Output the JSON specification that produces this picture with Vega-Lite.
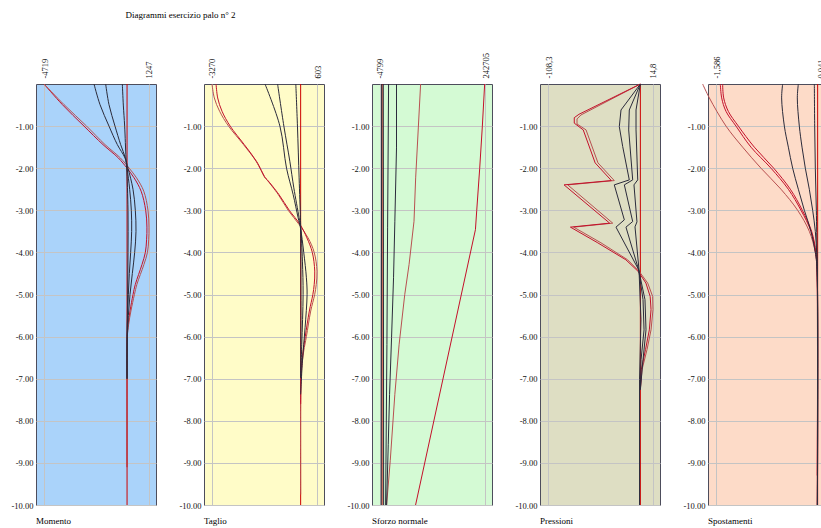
{
"$schema": "https://vega.github.io/schema/vega-lite/v6.json",
"padding": {"left": 10, "top": 10, "right": 0, "bottom": 2},
"title": {"text": "Diagrammi esercizio palo n° 2", "anchor": "start", "frame": "bounds", "dx": 115, "offset": 32, "font": "Liberation Serif", "fontSize": 9, "fontWeight": "normal", "color": "#000"},
"config": {
 "font": "Liberation Serif",
 "view": {"stroke": "#4d4d5c", "strokeWidth": 1},
 "axis": {"labelFont": "Liberation Serif", "labelFontSize": 8.5, "labelColor": "#111", "ticks": false, "domain": false, "gridColor": "#c4c4c4", "gridWidth": 1, "gridOpacity": 1},
 "line": {"strokeWidth": 1}
},
"spacing": 48,
"bounds": "flush",
"resolve": {"scale": {"x": "independent", "y": "independent"}},
"datasets": {
"m": [
{"s":"Z","z":0,"v":0},{"s":"Z","z":-10,"v":0},
{"s":"B","z":0,"v":-4719},{"s":"B","z":-0.49,"v":-3677},{"s":"B","z":-1.0,"v":-2446},{"s":"B","z":-1.44,"v":-1367},{"s":"B","z":-1.756,"v":-495},{"s":"B","z":-2.0,"v":0},{"s":"B","z":-2.23,"v":400},{"s":"B","z":-2.546,"v":800},{"s":"B","z":-3.0,"v":1060},{"s":"B","z":-3.4,"v":1130},{"s":"B","z":-3.7,"v":1110},{"s":"B","z":-4.0,"v":1040},{"s":"B","z":-4.286,"v":850},{"s":"B","z":-4.76,"v":470},{"s":"B","z":-5.0,"v":340},{"s":"B","z":-5.39,"v":170},{"s":"B","z":-5.71,"v":60},{"s":"B","z":-6.0,"v":5},{"s":"B","z":-6.5,"v":0},{"s":"B","z":-9.1,"v":0},
{"s":"A","z":0,"v":-4719},{"s":"A","z":-0.49,"v":-3580},{"s":"A","z":-1.0,"v":-2300},{"s":"A","z":-1.44,"v":-1250},{"s":"A","z":-1.756,"v":-380},{"s":"A","z":-2.0,"v":120},{"s":"A","z":-2.23,"v":540},{"s":"A","z":-2.546,"v":950},{"s":"A","z":-3.0,"v":1190},{"s":"A","z":-3.4,"v":1247},{"s":"A","z":-3.7,"v":1230},{"s":"A","z":-4.0,"v":1160},{"s":"A","z":-4.286,"v":960},{"s":"A","z":-4.76,"v":560},{"s":"A","z":-5.0,"v":420},{"s":"A","z":-5.39,"v":220},{"s":"A","z":-5.71,"v":90},{"s":"A","z":-6.0,"v":15},{"s":"A","z":-6.5,"v":0},{"s":"A","z":-9.1,"v":0},
{"s":"N1","z":0,"v":-1878},{"s":"N1","z":-0.49,"v":-1537},{"s":"N1","z":-1.0,"v":-1026},{"s":"N1","z":-1.44,"v":-552},{"s":"N1","z":-1.756,"v":-117},{"s":"N1","z":-2.0,"v":54},{"s":"N1","z":-2.5,"v":338},{"s":"N1","z":-3.0,"v":470},{"s":"N1","z":-3.5,"v":508},{"s":"N1","z":-4.0,"v":433},{"s":"N1","z":-4.5,"v":300},{"s":"N1","z":-5.0,"v":167},{"s":"N1","z":-5.5,"v":73},{"s":"N1","z":-6.0,"v":16},{"s":"N1","z":-6.5,"v":0},{"s":"N1","z":-7.0,"v":0},
{"s":"N2","z":0,"v":-1215},{"s":"N2","z":-0.49,"v":-1026},{"s":"N2","z":-1.0,"v":-685},{"s":"N2","z":-1.44,"v":-363},{"s":"N2","z":-1.756,"v":-98},{"s":"N2","z":-2.0,"v":0},{"s":"N2","z":-2.5,"v":148},{"s":"N2","z":-3.0,"v":243},{"s":"N2","z":-3.5,"v":262},{"s":"N2","z":-4.0,"v":205},{"s":"N2","z":-4.5,"v":130},{"s":"N2","z":-5.0,"v":73},{"s":"N2","z":-5.5,"v":30},{"s":"N2","z":-6.0,"v":5},{"s":"N2","z":-7.0,"v":0},
{"s":"N3","z":0,"v":-268},{"s":"N3","z":-0.5,"v":-212},{"s":"N3","z":-1.0,"v":-136},{"s":"N3","z":-1.756,"v":-60},{"s":"N3","z":-2.0,"v":-20},{"s":"N3","z":-3.0,"v":55},{"s":"N3","z":-4.0,"v":55},{"s":"N3","z":-5.0,"v":35},{"s":"N3","z":-6.0,"v":0},{"s":"N3","z":-7.0,"v":0}
],
"t": [
{"s":"Z","z":0,"v":0},{"s":"Z","z":-10,"v":0},
{"s":"A","z":0,"v":-3270},{"s":"A","z":-0.332,"v":-3184},{"s":"A","z":-0.648,"v":-2989},{"s":"A","z":-1.0,"v":-2659},{"s":"A","z":-1.439,"v":-2109},{"s":"A","z":-1.835,"v":-1645},{"s":"A","z":-2.23,"v":-1315},{"s":"A","z":-2.27,"v":-1254},{"s":"A","z":-2.626,"v":-826},{"s":"A","z":-3.0,"v":-460},{"s":"A","z":-3.337,"v":-57},{"s":"A","z":-3.654,"v":273},{"s":"A","z":-4.0,"v":500},{"s":"A","z":-4.444,"v":603},{"s":"A","z":-4.761,"v":575},{"s":"A","z":-5.0,"v":518},{"s":"A","z":-5.393,"v":371},{"s":"A","z":-6.0,"v":212},{"s":"A","z":-6.343,"v":114},{"s":"A","z":-6.738,"v":41},{"s":"A","z":-7.0,"v":15},{"s":"A","z":-7.45,"v":0},{"s":"A","z":-9.75,"v":0},
{"s":"B","z":0,"v":-3120},{"s":"B","z":-0.332,"v":-3060},{"s":"B","z":-0.648,"v":-2900},{"s":"B","z":-1.0,"v":-2600},{"s":"B","z":-1.439,"v":-2080},{"s":"B","z":-1.835,"v":-1630},{"s":"B","z":-2.23,"v":-1300},{"s":"B","z":-2.27,"v":-1240},{"s":"B","z":-2.626,"v":-800},{"s":"B","z":-3.0,"v":-420},{"s":"B","z":-3.337,"v":-20},{"s":"B","z":-3.654,"v":230},{"s":"B","z":-4.0,"v":430},{"s":"B","z":-4.444,"v":520},{"s":"B","z":-4.761,"v":500},{"s":"B","z":-5.0,"v":450},{"s":"B","z":-5.393,"v":320},{"s":"B","z":-6.0,"v":170},{"s":"B","z":-6.343,"v":90},{"s":"B","z":-6.738,"v":30},{"s":"B","z":-7.0,"v":10},{"s":"B","z":-7.6,"v":0},
{"s":"N1","z":0,"v":-1315},{"s":"N1","z":-1.0,"v":-765},{"s":"N1","z":-2.0,"v":-521},{"s":"N1","z":-2.626,"v":-277},{"s":"N1","z":-3.179,"v":-93},{"s":"N1","z":-3.416,"v":-8},{"s":"N1","z":-4.0,"v":114},{"s":"N1","z":-4.603,"v":212},{"s":"N1","z":-5.0,"v":237},{"s":"N1","z":-5.789,"v":163},{"s":"N1","z":-6.58,"v":65},{"s":"N1","z":-7.371,"v":0},
{"s":"N2","z":0,"v":-851},{"s":"N2","z":-1.0,"v":-619},{"s":"N2","z":-1.835,"v":-399},{"s":"N2","z":-2.467,"v":-252},{"s":"N2","z":-3.179,"v":-57},{"s":"N2","z":-3.416,"v":0},{"s":"N2","z":-4.207,"v":65},{"s":"N2","z":-5.0,"v":90},{"s":"N2","z":-6.184,"v":41},{"s":"N2","z":-6.975,"v":0},
{"s":"N3","z":0,"v":-179},{"s":"N3","z":-1.0,"v":-118},{"s":"N3","z":-2.23,"v":-57},{"s":"N3","z":-3.179,"v":-8},{"s":"N3","z":-3.416,"v":0},{"s":"N3","z":-5.393,"v":12},{"s":"N3","z":-6.975,"v":0}
],
"n": [
{"s":"Z","z":0,"v":0},{"s":"Z","z":-10,"v":0},
{"s":"A","z":0,"v":90931},{"s":"A","z":-1.044,"v":85483},{"s":"A","z":-2.23,"v":79257},{"s":"A","z":-3.26,"v":75366},{"s":"A","z":-4.29,"v":63691},{"s":"A","z":-5.0,"v":53573},{"s":"A","z":-6.18,"v":40342},{"s":"A","z":-7.37,"v":30224},{"s":"A","z":-8.95,"v":19328},{"s":"A","z":-10,"v":10767},
{"s":"B","z":0,"v":241923},{"s":"B","z":-1.0,"v":236476},{"s":"B","z":-2.0,"v":230248},{"s":"B","z":-3.0,"v":223243},{"s":"B","z":-3.46,"v":220130},{"s":"B","z":-10,"v":79040},
{"s":"N1","z":0,"v":34116},{"s":"N1","z":-1.518,"v":34116},{"s":"N1","z":-3.26,"v":30224},{"s":"N1","z":-4.603,"v":27111},{"s":"N1","z":-6.026,"v":22442},{"s":"N1","z":-7.371,"v":17772},{"s":"N1","z":-8.557,"v":14659},{"s":"N1","z":-10,"v":10767},
{"s":"N2","z":0,"v":15437},{"s":"N2","z":-3.4,"v":13102},{"s":"N2","z":-6.184,"v":11545},{"s":"N2","z":-10,"v":8431},
{"s":"N3","z":0,"v":2984},{"s":"N3","z":-10,"v":3762},
{"s":"N4","z":0,"v":-900},{"s":"N4","z":-10,"v":-2000}
],
"p": [
{"s":"Z","z":0,"v":0},{"s":"Z","z":-10,"v":0},
{"s":"A","z":0,"v":0},{"s":"A","z":-0.735,"v":-69.6},{"s":"A","z":-0.83,"v":-74.3},{"s":"A","z":-0.95,"v":-74.3},{"s":"A","z":-1.09,"v":-63.7},{"s":"A","z":-1.874,"v":-49.7},{"s":"A","z":-2.294,"v":-30.6},{"s":"A","z":-2.396,"v":-85.2},{"s":"A","z":-3.305,"v":-32.4},{"s":"A","z":-3.4,"v":-78.2},{"s":"A","z":-3.772,"v":-46.2},{"s":"A","z":-4.176,"v":-14.9},{"s":"A","z":-4.453,"v":-1.3},{"s":"A","z":-4.728,"v":8.6},{"s":"A","z":-5.046,"v":14.4},{"s":"A","z":-5.36,"v":14.8},{"s":"A","z":-5.84,"v":12.5},{"s":"A","z":-6.31,"v":7.8},{"s":"A","z":-6.79,"v":1.9},{"s":"A","z":-7.26,"v":0},
{"s":"B","z":0,"v":0},{"s":"B","z":-0.72,"v":-72},{"s":"B","z":-0.8,"v":-77.5},{"s":"B","z":-0.93,"v":-77.5},{"s":"B","z":-1.09,"v":-67},{"s":"B","z":-1.874,"v":-53},{"s":"B","z":-2.294,"v":-34},{"s":"B","z":-2.396,"v":-89.5},{"s":"B","z":-3.305,"v":-36},{"s":"B","z":-3.4,"v":-82},{"s":"B","z":-3.772,"v":-50},{"s":"B","z":-4.176,"v":-17},{"s":"B","z":-4.453,"v":-2.5},{"s":"B","z":-4.728,"v":6.5},{"s":"B","z":-5.046,"v":11.5},{"s":"B","z":-5.36,"v":12.5},{"s":"B","z":-5.84,"v":10.5},{"s":"B","z":-6.31,"v":6},{"s":"B","z":-6.79,"v":1},{"s":"B","z":-7.26,"v":0},
{"s":"N1","z":0,"v":0},{"s":"N1","z":-0.617,"v":-22.7},{"s":"N1","z":-1.013,"v":-24.7},{"s":"N1","z":-1.487,"v":-20.7},{"s":"N1","z":-2.278,"v":-13.0},{"s":"N1","z":-2.396,"v":-30.6},{"s":"N1","z":-3.227,"v":-18.8},{"s":"N1","z":-3.4,"v":-28.6},{"s":"N1","z":-4.413,"v":-2.0},{"s":"N1","z":-5.12,"v":5.4},{"s":"N1","z":-5.84,"v":6.6},{"s":"N1","z":-6.55,"v":3.1},{"s":"N1","z":-7.26,"v":0},
{"s":"N2","z":0,"v":0},{"s":"N2","z":-0.617,"v":-13.0},{"s":"N2","z":-1.091,"v":-13.7},{"s":"N2","z":-2.278,"v":-9.0},{"s":"N2","z":-2.396,"v":-18.8},{"s":"N2","z":-3.267,"v":-9.0},{"s":"N2","z":-3.4,"v":-16.9},{"s":"N2","z":-4.413,"v":-2.0},{"s":"N2","z":-5.12,"v":3.1},{"s":"N2","z":-5.84,"v":4.3},{"s":"N2","z":-6.55,"v":0.8},{"s":"N2","z":-7.26,"v":0},
{"s":"N3","z":0,"v":0},{"s":"N3","z":-0.617,"v":-5.1},{"s":"N3","z":-1.09,"v":-5.1},{"s":"N3","z":-2.278,"v":-3.1},{"s":"N3","z":-2.396,"v":-7.5},{"s":"N3","z":-3.274,"v":-4.0},{"s":"N3","z":-3.393,"v":-6.3},{"s":"N3","z":-4.413,"v":-1.6},{"s":"N3","z":-5.6,"v":0.7},{"s":"N3","z":-7.02,"v":-1.0},{"s":"N3","z":-10,"v":-1.0}
],
"s": [
{"s":"Z","z":0,"v":-0.011},{"s":"Z","z":-10,"v":-0.011},
{"s":"A","z":0,"v":-1.793},{"s":"A","z":-0.33,"v":-1.689},{"s":"A","z":-1.0,"v":-1.431},{"s":"A","z":-1.5,"v":-1.173},{"s":"A","z":-2.0,"v":-0.889},{"s":"A","z":-2.5,"v":-0.579},{"s":"A","z":-3.0,"v":-0.321},{"s":"A","z":-3.5,"v":-0.14},{"s":"A","z":-4.0,"v":-0.047},{"s":"A","z":-4.4,"v":-0.021},{"s":"A","z":-10,"v":-0.015},
{"s":"B","z":0,"v":-1.519},{"s":"B","z":-0.33,"v":-1.498},{"s":"B","z":-0.65,"v":-1.431},{"s":"B","z":-1.0,"v":-1.276},{"s":"B","z":-1.5,"v":-1.044},{"s":"B","z":-2.0,"v":-0.734},{"s":"B","z":-2.5,"v":-0.465},{"s":"B","z":-3.0,"v":-0.269},{"s":"B","z":-3.5,"v":-0.114},{"s":"B","z":-4.0,"v":-0.042},{"s":"B","z":-4.4,"v":-0.021},{"s":"B","z":-9.3,"v":-0.018},
{"s":"C","z":0,"v":-1.483},{"s":"C","z":-0.33,"v":-1.467},{"s":"C","z":-0.65,"v":-1.395},{"s":"C","z":-1.0,"v":-1.24},{"s":"C","z":-1.5,"v":-0.992},{"s":"C","z":-2.0,"v":-0.692},{"s":"C","z":-2.5,"v":-0.434},{"s":"C","z":-3.0,"v":-0.248},{"s":"C","z":-3.5,"v":-0.104},{"s":"C","z":-4.0,"v":-0.037},{"s":"C","z":-4.4,"v":-0.021},{"s":"C","z":-10,"v":-0.018},
{"s":"N1","z":0,"v":-0.553},{"s":"N1","z":-0.33,"v":-0.569},{"s":"N1","z":-1.0,"v":-0.527},{"s":"N1","z":-1.5,"v":-0.465},{"s":"N1","z":-2.0,"v":-0.398},{"s":"N1","z":-2.5,"v":-0.31},{"s":"N1","z":-3.0,"v":-0.217},{"s":"N1","z":-3.5,"v":-0.114},{"s":"N1","z":-4.0,"v":-0.047},{"s":"N1","z":-4.4,"v":-0.021},{"s":"N1","z":-10,"v":-0.016},
{"s":"N2","z":0,"v":-0.31},{"s":"N2","z":-0.33,"v":-0.326},{"s":"N2","z":-1.0,"v":-0.295},{"s":"N2","z":-1.5,"v":-0.253},{"s":"N2","z":-2.0,"v":-0.202},{"s":"N2","z":-2.5,"v":-0.14},{"s":"N2","z":-3.0,"v":-0.088},{"s":"N2","z":-3.5,"v":-0.047},{"s":"N2","z":-4.0,"v":-0.026},{"s":"N2","z":-4.4,"v":-0.016},{"s":"N2","z":-10,"v":-0.014},
{"s":"N3","z":0,"v":-0.062},{"s":"N3","z":-1.0,"v":-0.057},{"s":"N3","z":-2.0,"v":-0.047},{"s":"N3","z":-3.0,"v":-0.031},{"s":"N3","z":-4.0,"v":-0.021},{"s":"N3","z":-4.4,"v":-0.016},{"s":"N3","z":-10,"v":-0.014}
]
},
"hconcat": [
{
 "width": 120, "height": 421,
 "view": {"fill": "#aad3fa"},
 "title": {"text": "Momento", "orient": "bottom", "anchor": "start", "frame": "group", "offset": 7, "font": "Liberation Serif", "fontSize": 9, "fontWeight": "normal", "color": "#000"},
 "data": {"name": "m"},
 "mark": {"type": "line", "strokeWidth": 1, "interpolate": "catmull-rom"},
 "encoding": {
  "x": {"field": "v", "type": "quantitative", "scale": {"domain": [-5174, 1645], "nice": false, "zero": false}, "axis": {"orient": "top", "values": [-4719, 1247], "labelAngle": -90, "labelPadding": 6, "title": null, "labelExpr": "datum.value < 0 ? '-4719' : '1247'"}},
  "y": {"field": "z", "type": "quantitative", "scale": {"domain": [-10, 0], "nice": false}, "axis": {"values": [-1,-2,-3,-4,-5,-6,-7,-8,-9,-10], "title": null, "labelPadding": 3, "labelExpr": "(datum.value < 0 ? '-' : '') + format(abs(datum.value), '.2f')"}},
  "color": {"field": "s", "type": "nominal", "legend": null, "scale": {"domain": ["A","B","C","Z","N1","N2","N3","N4"], "range": ["#b85050","#c4102a","#c4102a","#cc0000","#2b2b3b","#2b2b3b","#2b2b3b","#2b2b3b"]}},
  "order": {"field": "z", "sort": "descending"}
 }
},
{
 "width": 120, "height": 421,
 "view": {"fill": "#fffcc8"},
 "title": {"text": "Taglio", "orient": "bottom", "anchor": "start", "frame": "group", "offset": 7, "font": "Liberation Serif", "fontSize": 9, "fontWeight": "normal", "color": "#000"},
 "data": {"name": "t"},
 "mark": {"type": "line", "strokeWidth": 1, "interpolate": "catmull-rom"},
 "encoding": {
  "x": {"field": "v", "type": "quantitative", "scale": {"domain": [-3565, 861], "nice": false, "zero": false}, "axis": {"orient": "top", "values": [-3270, 603], "labelAngle": -90, "labelPadding": 6, "title": null, "labelExpr": "datum.value < 0 ? '-3270' : '603'"}},
  "y": {"field": "z", "type": "quantitative", "scale": {"domain": [-10, 0], "nice": false}, "axis": {"values": [-1,-2,-3,-4,-5,-6,-7,-8,-9,-10], "title": null, "labelPadding": 3, "labelExpr": "(datum.value < 0 ? '-' : '') + format(abs(datum.value), '.2f')"}},
  "color": {"field": "s", "type": "nominal", "legend": null, "scale": {"domain": ["A","B","C","Z","N1","N2","N3","N4"], "range": ["#b85050","#c4102a","#c4102a","#cc0000","#2b2b3b","#2b2b3b","#2b2b3b","#2b2b3b"]}},
  "order": {"field": "z", "sort": "descending"}
 }
},
{
 "width": 120, "height": 421,
 "view": {"fill": "#d4fad4"},
 "title": {"text": "Sforzo normale", "orient": "bottom", "anchor": "start", "frame": "group", "offset": 7, "font": "Liberation Serif", "fontSize": 9, "fontWeight": "normal", "color": "#000"},
 "data": {"name": "n"},
 "mark": {"type": "line", "strokeWidth": 1},
 "encoding": {
  "x": {"field": "v", "type": "quantitative", "scale": {"domain": [-23656, 259205], "nice": false, "zero": false}, "axis": {"orient": "top", "values": [-4799, 242705], "labelAngle": -90, "labelPadding": 6, "title": null, "labelExpr": "datum.value < 0 ? '-4799' : '242705'"}},
  "y": {"field": "z", "type": "quantitative", "scale": {"domain": [-10, 0], "nice": false}, "axis": {"values": [-1,-2,-3,-4,-5,-6,-7,-8,-9,-10], "title": null, "labelPadding": 3, "labelExpr": "(datum.value < 0 ? '-' : '') + format(abs(datum.value), '.2f')"}},
  "color": {"field": "s", "type": "nominal", "legend": null, "scale": {"domain": ["A","B","C","Z","N1","N2","N3","N4"], "range": ["#b85050","#c4102a","#c4102a","#cc0000","#2b2b3b","#2b2b3b","#2b2b3b","#2b2b3b"]}},
  "order": {"field": "z", "sort": "descending"}
 }
},
{
 "width": 120, "height": 421,
 "view": {"fill": "#dedec3"},
 "title": {"text": "Pressioni", "orient": "bottom", "anchor": "start", "frame": "group", "offset": 7, "font": "Liberation Serif", "fontSize": 9, "fontWeight": "normal", "color": "#000"},
 "data": {"name": "p"},
 "mark": {"type": "line", "strokeWidth": 1},
 "encoding": {
  "x": {"field": "v", "type": "quantitative", "scale": {"domain": [-117.68, 23.01], "nice": false, "zero": false}, "axis": {"orient": "top", "values": [-108.3, 14.8], "labelAngle": -90, "labelPadding": 6, "title": null, "labelExpr": "datum.value < 0 ? '-108,3' : '14,8'"}},
  "y": {"field": "z", "type": "quantitative", "scale": {"domain": [-10, 0], "nice": false}, "axis": {"values": [-1,-2,-3,-4,-5,-6,-7,-8,-9,-10], "title": null, "labelPadding": 3, "labelExpr": "(datum.value < 0 ? '-' : '') + format(abs(datum.value), '.2f')"}},
  "color": {"field": "s", "type": "nominal", "legend": null, "scale": {"domain": ["A","B","C","Z","N1","N2","N3","N4"], "range": ["#b85050","#c4102a","#c4102a","#cc0000","#2b2b3b","#2b2b3b","#2b2b3b","#2b2b3b"]}},
  "order": {"field": "z", "sort": "descending"}
 }
},
{
 "width": 117, "height": 421,
 "view": {"fill": "#fddbc8"},
 "title": {"text": "Spostamenti", "orient": "bottom", "anchor": "start", "frame": "group", "offset": 7, "font": "Liberation Serif", "fontSize": 9, "fontWeight": "normal", "color": "#000"},
 "data": {"name": "s"},
 "mark": {"type": "line", "strokeWidth": 1, "clip": false, "interpolate": "catmull-rom"},
 "encoding": {
  "x": {"field": "v", "type": "quantitative", "scale": {"domain": [-1.71, 0.103], "nice": false, "zero": false}, "axis": {"orient": "top", "values": [-1.586, 0.041], "labelAngle": -90, "labelPadding": 6, "title": null, "labelExpr": "datum.value < 0 ? '-1,586' : '0,041'"}},
  "y": {"field": "z", "type": "quantitative", "scale": {"domain": [-10, 0], "nice": false}, "axis": {"values": [-1,-2,-3,-4,-5,-6,-7,-8,-9,-10], "title": null, "labelPadding": 3, "labelExpr": "(datum.value < 0 ? '-' : '') + format(abs(datum.value), '.2f')"}},
  "color": {"field": "s", "type": "nominal", "legend": null, "scale": {"domain": ["A","B","C","Z","N1","N2","N3","N4"], "range": ["#b85050","#c4102a","#c4102a","#cc0000","#2b2b3b","#2b2b3b","#2b2b3b","#2b2b3b"]}},
  "order": {"field": "z", "sort": "descending"}
 }
}
]
}
